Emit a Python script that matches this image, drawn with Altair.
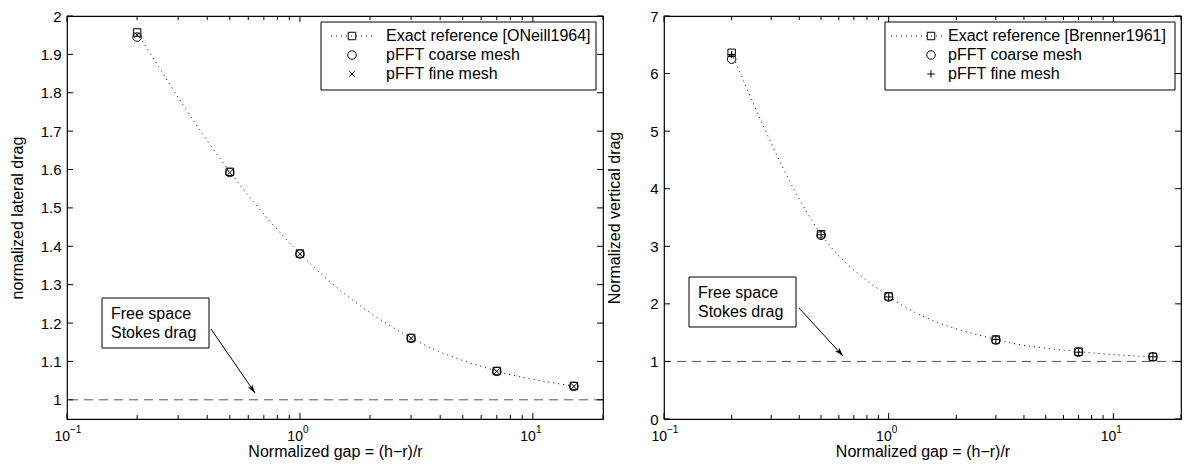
import altair as alt
import pandas as pd

# ---------------- data ----------------
gap = [0.2, 0.5, 1, 3, 7, 15]

lat_exact = [1.957, 1.594, 1.381, 1.161, 1.075, 1.036]
lat_coarse = [1.945, 1.592, 1.380, 1.160, 1.074, 1.035]
lat_fine = [1.950, 1.592, 1.380, 1.160, 1.074, 1.035]

ver_exact = [6.36, 3.21, 2.13, 1.38, 1.17, 1.08]
ver_coarse = [6.25, 3.19, 2.12, 1.37, 1.16, 1.08]
ver_fine = [6.33, 3.20, 2.12, 1.38, 1.16, 1.08]

x_major = [0.1, 1, 10]
x_exponents = ["\u22121", "0", "1"]
x_minor = [0.2, 0.3, 0.4, 0.5, 0.6, 0.7, 0.8, 0.9,
           2, 3, 4, 5, 6, 7, 8, 9, 20]
lat_ticks = [1.0, 1.1, 1.2, 1.3, 1.4, 1.5, 1.6, 1.7, 1.8, 1.9, 2.0]
ver_ticks = [0, 1, 2, 3, 4, 5, 6, 7]

FONT = "Liberation Sans"
H = 403
X_DOMAIN = [0.1, 20]
TXT = 16

SQUARE = "square"
CIRCLE = "circle"
XMARK = "M-1,-1L1,1M1,-1L-1,1"
PLUS = "M-1,0L1,0M0,-1L0,1"
ARROW = "M0,0L0.5,1.7L0,1.25L-0.5,1.7Z"


def panel(W, ydom, yticks, ytitle, exact, coarse, fine, fine_shape,
          legend_title, leg, ann):
    xs = alt.Scale(type="log", domain=X_DOMAIN, nice=False)
    ys = alt.Scale(domain=ydom, nice=False, zero=False)
    xaxis = alt.Axis(labels=False, ticks=False, domain=False, grid=False,
                     title="Normalized gap = (h\u2212r)/r", titleFont=FONT,
                     titleFontSize=TXT, titleFontWeight="normal",
                     titleColor="black", titlePadding=24,
                     minExtent=0, maxExtent=0)
    yaxis = alt.Axis(values=yticks, format="~g", ticks=False, tickSize=0,
                     domain=False, grid=False, labelFont=FONT,
                     labelFontSize=15, labelColor="black", labelPadding=6,
                     labelFlush=False, labelOverlap=False,
                     title=ytitle, titleFont=FONT, titleFontSize=TXT,
                     titleFontWeight="normal", titleColor="black",
                     titlePadding=3, minExtent=39, maxExtent=39)

    def X(f="x"):
        return alt.X(f"{f}:Q", scale=xs, axis=xaxis)

    def Y(f="y"):
        return alt.Y(f"{f}:Q", scale=ys, axis=yaxis)

    pts = pd.DataFrame({"x": gap, "exact": exact, "coarse": coarse,
                        "fine": fine})
    one = pd.DataFrame({"d": [0]})

    layers = []
    # dashed free-space line at 1
    layers.append(alt.Chart(pd.DataFrame({"y": [1]})).mark_rule(
        color="#555555", strokeDash=[9, 6], strokeWidth=1).encode(y=Y()))
    # exact reference dotted curve
    layers.append(alt.Chart(pts).mark_line(
        color="black", strokeDash=[1, 4], strokeWidth=1,
        interpolate="monotone").encode(x=X(), y=Y("exact")))
    layers.append(alt.Chart(pts).mark_point(
        shape=SQUARE, size=56, filled=False, color="black",
        strokeWidth=1, opacity=1).encode(x=X(), y=Y("exact")))
    layers.append(alt.Chart(pts).mark_point(
        shape=CIRCLE, size=72, filled=False, color="black",
        strokeWidth=1, opacity=1).encode(x=X(), y=Y("coarse")))
    layers.append(alt.Chart(pts).mark_point(
        shape=fine_shape, size=(30 if fine_shape == XMARK else 56),
        filled=False, color="black", strokeWidth=1, opacity=1).encode(
        x=X(), y=Y("fine")))

    # inward ticks (box style)
    maj = pd.DataFrame({"x": x_major})
    mnr = pd.DataFrame({"x": x_minor})
    for df, L in ((maj, 6), (mnr, 4)):
        layers.append(alt.Chart(df).mark_rule(color="black", strokeWidth=1)
                      .encode(x=X(), y=alt.value(0), y2=alt.value(L)))
        layers.append(alt.Chart(df).mark_rule(color="black", strokeWidth=1)
                      .encode(x=X(), y=alt.value(H), y2=alt.value(H - L)))
    ydf = pd.DataFrame({"y": yticks})
    layers.append(alt.Chart(ydf).mark_rule(color="black", strokeWidth=1)
                  .encode(y=Y(), x=alt.value(0), x2=alt.value(6)))
    layers.append(alt.Chart(ydf).mark_rule(color="black", strokeWidth=1)
                  .encode(y=Y(), x=alt.value(W), x2=alt.value(W - 6)))

    # x tick labels 10^n
    lab = pd.DataFrame({"x": x_major, "base": ["10"] * 3,
                        "exp": x_exponents})
    layers.append(alt.Chart(lab).mark_text(
        font=FONT, fontSize=14, color="black", align="right",
        baseline="alphabetic", dx=3).encode(
        x=X(), y=alt.value(H + 22), text="base:N"))
    layers.append(alt.Chart(lab).mark_text(
        font=FONT, fontSize=10, color="black", align="left",
        baseline="alphabetic", dx=3).encode(
        x=X(), y=alt.value(H + 14), text="exp:N"))

    # annotation box + arrow
    bx0, by0, bx1, by1, ax0, ay0, ax1, ay1, ang = ann
    layers.append(alt.Chart(one).mark_rect(
        fill="white", stroke="black", strokeWidth=1).encode(
        x=alt.value(bx0), x2=alt.value(bx1), y=alt.value(by0),
        y2=alt.value(by1)))
    layers.append(alt.Chart(one).mark_text(
        font=FONT, fontSize=TXT, color="black", align="left",
        baseline="alphabetic").encode(
        x=alt.value(bx0 + 9), y=alt.value(by0 + 21),
        text=alt.value("Free space")))
    layers.append(alt.Chart(one).mark_text(
        font=FONT, fontSize=TXT, color="black", align="left",
        baseline="alphabetic").encode(
        x=alt.value(bx0 + 9), y=alt.value(by0 + 40),
        text=alt.value("Stokes drag")))
    layers.append(alt.Chart(one).mark_rule(color="black", strokeWidth=1)
                  .encode(x=alt.value(ax0), y=alt.value(ay0),
                          x2=alt.value(ax1), y2=alt.value(ay1)))
    layers.append(alt.Chart(one).mark_point(
        shape=ARROW, size=110, filled=True, color="black", opacity=1,
        angle=ang).encode(x=alt.value(ax1), y=alt.value(ay1)))

    # legend
    lx0, lx1, ly0, ly1, dot0, dot1, symx, textx, rows = leg
    layers.append(alt.Chart(one).mark_rect(
        fill="white", stroke="black", strokeWidth=1).encode(
        x=alt.value(lx0), x2=alt.value(lx1), y=alt.value(ly0),
        y2=alt.value(ly1)))
    layers.append(alt.Chart(one).mark_rule(
        color="black", strokeDash=[1, 4], strokeWidth=1).encode(
        x=alt.value(dot0), x2=alt.value(dot1), y=alt.value(rows[0]),
        y2=alt.value(rows[0])))
    shapes = [(SQUARE, 56), (CIRCLE, 72),
              (fine_shape, 30 if fine_shape == XMARK else 56)]
    texts = [legend_title, "pFFT coarse mesh", "pFFT fine mesh"]
    for (shp, sz), t, ry in zip(shapes, texts, rows):
        layers.append(alt.Chart(one).mark_point(
            shape=shp, size=sz, filled=False, color="black", strokeWidth=1,
            opacity=1).encode(x=alt.value(symx), y=alt.value(ry)))
        layers.append(alt.Chart(one).mark_text(
            font=FONT, fontSize=TXT, color="black", align="left",
            baseline="middle").encode(
            x=alt.value(textx), y=alt.value(ry), text=alt.value(t)))

    return alt.layer(*layers).properties(width=W, height=H)


WL = 536
WR = 517

left = panel(
    WL, [0.95, 2], lat_ticks, "normalized lateral drag",
    lat_exact, lat_coarse, lat_fine, XMARK,
    "Exact reference [ONeill1964]",
    (WL - 282, WL - 7, 6, 74, WL - 272, WL - 227, WL - 251, WL - 217,
     [20, 39, 58]),
    (35, 282, 142, 332, 144, 313, 188, 377, 145.5))

right = panel(
    WR, [0, 7], ver_ticks, "Normalized vertical drag",
    ver_exact, ver_coarse, ver_fine, PLUS,
    "Exact reference [Brenner1961]",
    (WR - 296, WR - 6, 6, 74, WR - 290, WR - 238, WR - 250, WR - 233,
     [20, 39, 58]),
    (25, 261, 132, 311, 135, 292, 179, 340, 138.7))

chart = alt.hconcat(left, right, spacing=0).properties(
    padding=0
).configure_view(stroke="black", strokeWidth=1.2)

chart.save("out.html", embed_options={"renderer": "svg", "actions": False})
